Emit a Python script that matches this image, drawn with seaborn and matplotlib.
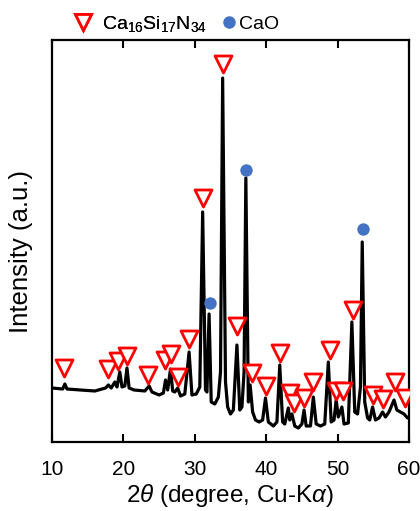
import matplotlib
matplotlib.use("Agg")
import matplotlib.pyplot as plt
import seaborn as sns
import pandas as pd
from matplotlib.lines import Line2D

# XRD trace (2theta in degrees, intensity in arbitrary units)
two_theta = [10.0, 11.5, 11.8, 12.1, 14.0, 16.0, 17.5, 17.9, 18.3, 18.8, 19.1, 19.5, 19.8, 20.2,
             20.5, 20.8, 21.5, 23.0, 23.6, 24.0, 25.0, 25.6, 25.9, 26.2, 26.6, 26.9, 27.2, 27.6,
             28.0, 28.6, 29.2, 29.6, 30.2, 30.7, 31.1, 31.5, 31.7, 32.0, 32.3, 32.8, 33.3, 33.6,
             33.9, 34.3, 34.6, 35.0, 35.4, 35.9, 36.3, 36.6, 36.9, 37.15, 37.5, 37.75, 38.1, 38.5,
             39.0, 39.5, 39.9, 40.3, 41.0, 41.5, 41.9, 42.3, 42.6, 43.1, 43.3, 43.6, 44.0, 44.5,
             45.0, 45.3, 45.6, 46.2, 46.6, 47.0, 47.6, 48.2, 48.7, 49.1, 49.5, 49.8, 50.1, 50.6,
             50.9, 51.5, 52.0, 52.4, 52.8, 53.2, 53.45, 53.8, 54.2, 54.5, 54.9, 55.3, 55.8, 56.3,
             56.7, 57.2, 57.9, 58.3, 58.8, 59.3, 59.8, 60.0]
intensity = [54, 53, 58, 53, 52, 51, 54, 57, 54, 60, 55, 70, 55, 56,
             74, 54, 52, 51, 56, 50, 47, 49, 62, 52, 73, 51, 50, 54,
             46, 48, 90, 47, 48, 55, 230, 52, 50, 128, 40, 38, 45, 70,
             364, 60, 35, 28, 32, 97, 32, 35, 70, 264, 40, 57, 30, 22,
             20, 22, 44, 20, 16, 20, 77, 20, 18, 34, 22, 28, 16, 14,
             18, 32, 16, 16, 45, 18, 16, 18, 80, 20, 22, 42, 25, 35,
             18, 19, 120, 30, 28, 55, 200, 40, 24, 22, 35, 22, 24, 30,
             25, 30, 42, 32, 30, 28, 24, 25]

# Phase markers
nitride_pos = [11.7, 17.8, 19.2, 20.5, 23.4, 25.8, 26.6, 27.6, 29.2, 31.1, 33.95, 35.9, 38.0,
               40.0, 41.9, 43.3, 43.9, 45.3, 46.6, 48.9, 49.8, 50.8, 52.2, 55.0, 56.4, 58.0, 59.4]
nitride_int = [74, 73, 81, 86, 67, 82, 88, 65, 103, 244, 378, 116, 69,
               56, 89, 49, 39, 44, 60, 92, 51, 51, 132, 47, 43, 60, 44]
cao_pos = [32.1, 37.2, 53.5]
cao_int = [139, 272, 213]

x_ticks = [10, 20, 30, 40, 50, 60]

sns.set_style("ticks")
plt.rcParams["font.family"] = ["Liberation Sans", "DejaVu Sans"]
plt.rcParams["mathtext.fontset"] = "custom"
plt.rcParams["mathtext.rm"] = "Liberation Sans"
plt.rcParams["mathtext.it"] = "Liberation Sans:italic"
plt.rcParams["text.color"] = "black"
plt.rcParams["axes.labelcolor"] = "black"
plt.rcParams["xtick.color"] = "black"

fig = plt.figure(figsize=(4.2, 5.11), dpi=100)
ax = fig.add_axes([52/420, 1-442/511, (409-52)/420, (442-40)/511])

trace = pd.DataFrame({"x": two_theta, "y": intensity})
sns.lineplot(data=trace, x="x", y="y", ax=ax, color="black", lw=2.3, sort=False)

red = "#FF0000"
blue = "#4472C4"
ax.scatter(nitride_pos, nitride_int, marker="v", s=150, facecolors="white",
           edgecolors=red, linewidths=2.0, zorder=5)
ax.scatter(cao_pos, cao_int, marker="o", s=80, color=blue, zorder=5, linewidths=0)

ax.set_xlim(10, 60)
ax.set_ylim(0, 402)
ax.set_xticks(x_ticks)
ax.set_xticklabels([str(t) for t in x_ticks])
ax.set_yticks([])
ax.tick_params(axis="x", direction="in", top=True, length=6, width=1.5,
               labelsize=15, pad=13, labelcolor="black")
for s in ax.spines.values():
    s.set_visible(True)
    s.set_linewidth(1.6)
    s.set_color("black")

ax.set_xlabel(r"2$\mathit{\theta}$ (degree, Cu-K$\alpha$)", fontsize=17.5, labelpad=2)
ax.set_ylabel("Intensity (a.u.)", fontsize=18.5)
ax.yaxis.set_label_coords(-0.052, 0.475)

h1 = Line2D([], [], marker="v", linestyle="none", markersize=12, markerfacecolor="white",
            markeredgecolor=red, markeredgewidth=2.0)
h2 = Line2D([], [], marker="o", linestyle="none", markersize=9, markerfacecolor=blue,
            markeredgewidth=0)
leg1 = fig.legend([h1], [r"Ca$_{16}$Si$_{17}$N$_{34}$"], loc="center left",
                  bbox_to_anchor=(71/420, 1-24/511), frameon=False, fontsize=14,
                  handlelength=1.2, handletextpad=0.4, borderpad=0, borderaxespad=0)
fig.add_artist(leg1)
fig.legend([h2], ["CaO"], loc="center left",
           bbox_to_anchor=(222/420, 1-24/511), frameon=False, fontsize=14,
           handlelength=0.72, handletextpad=0.15, borderpad=0, borderaxespad=0)

fig.savefig("out.png", dpi=100)
